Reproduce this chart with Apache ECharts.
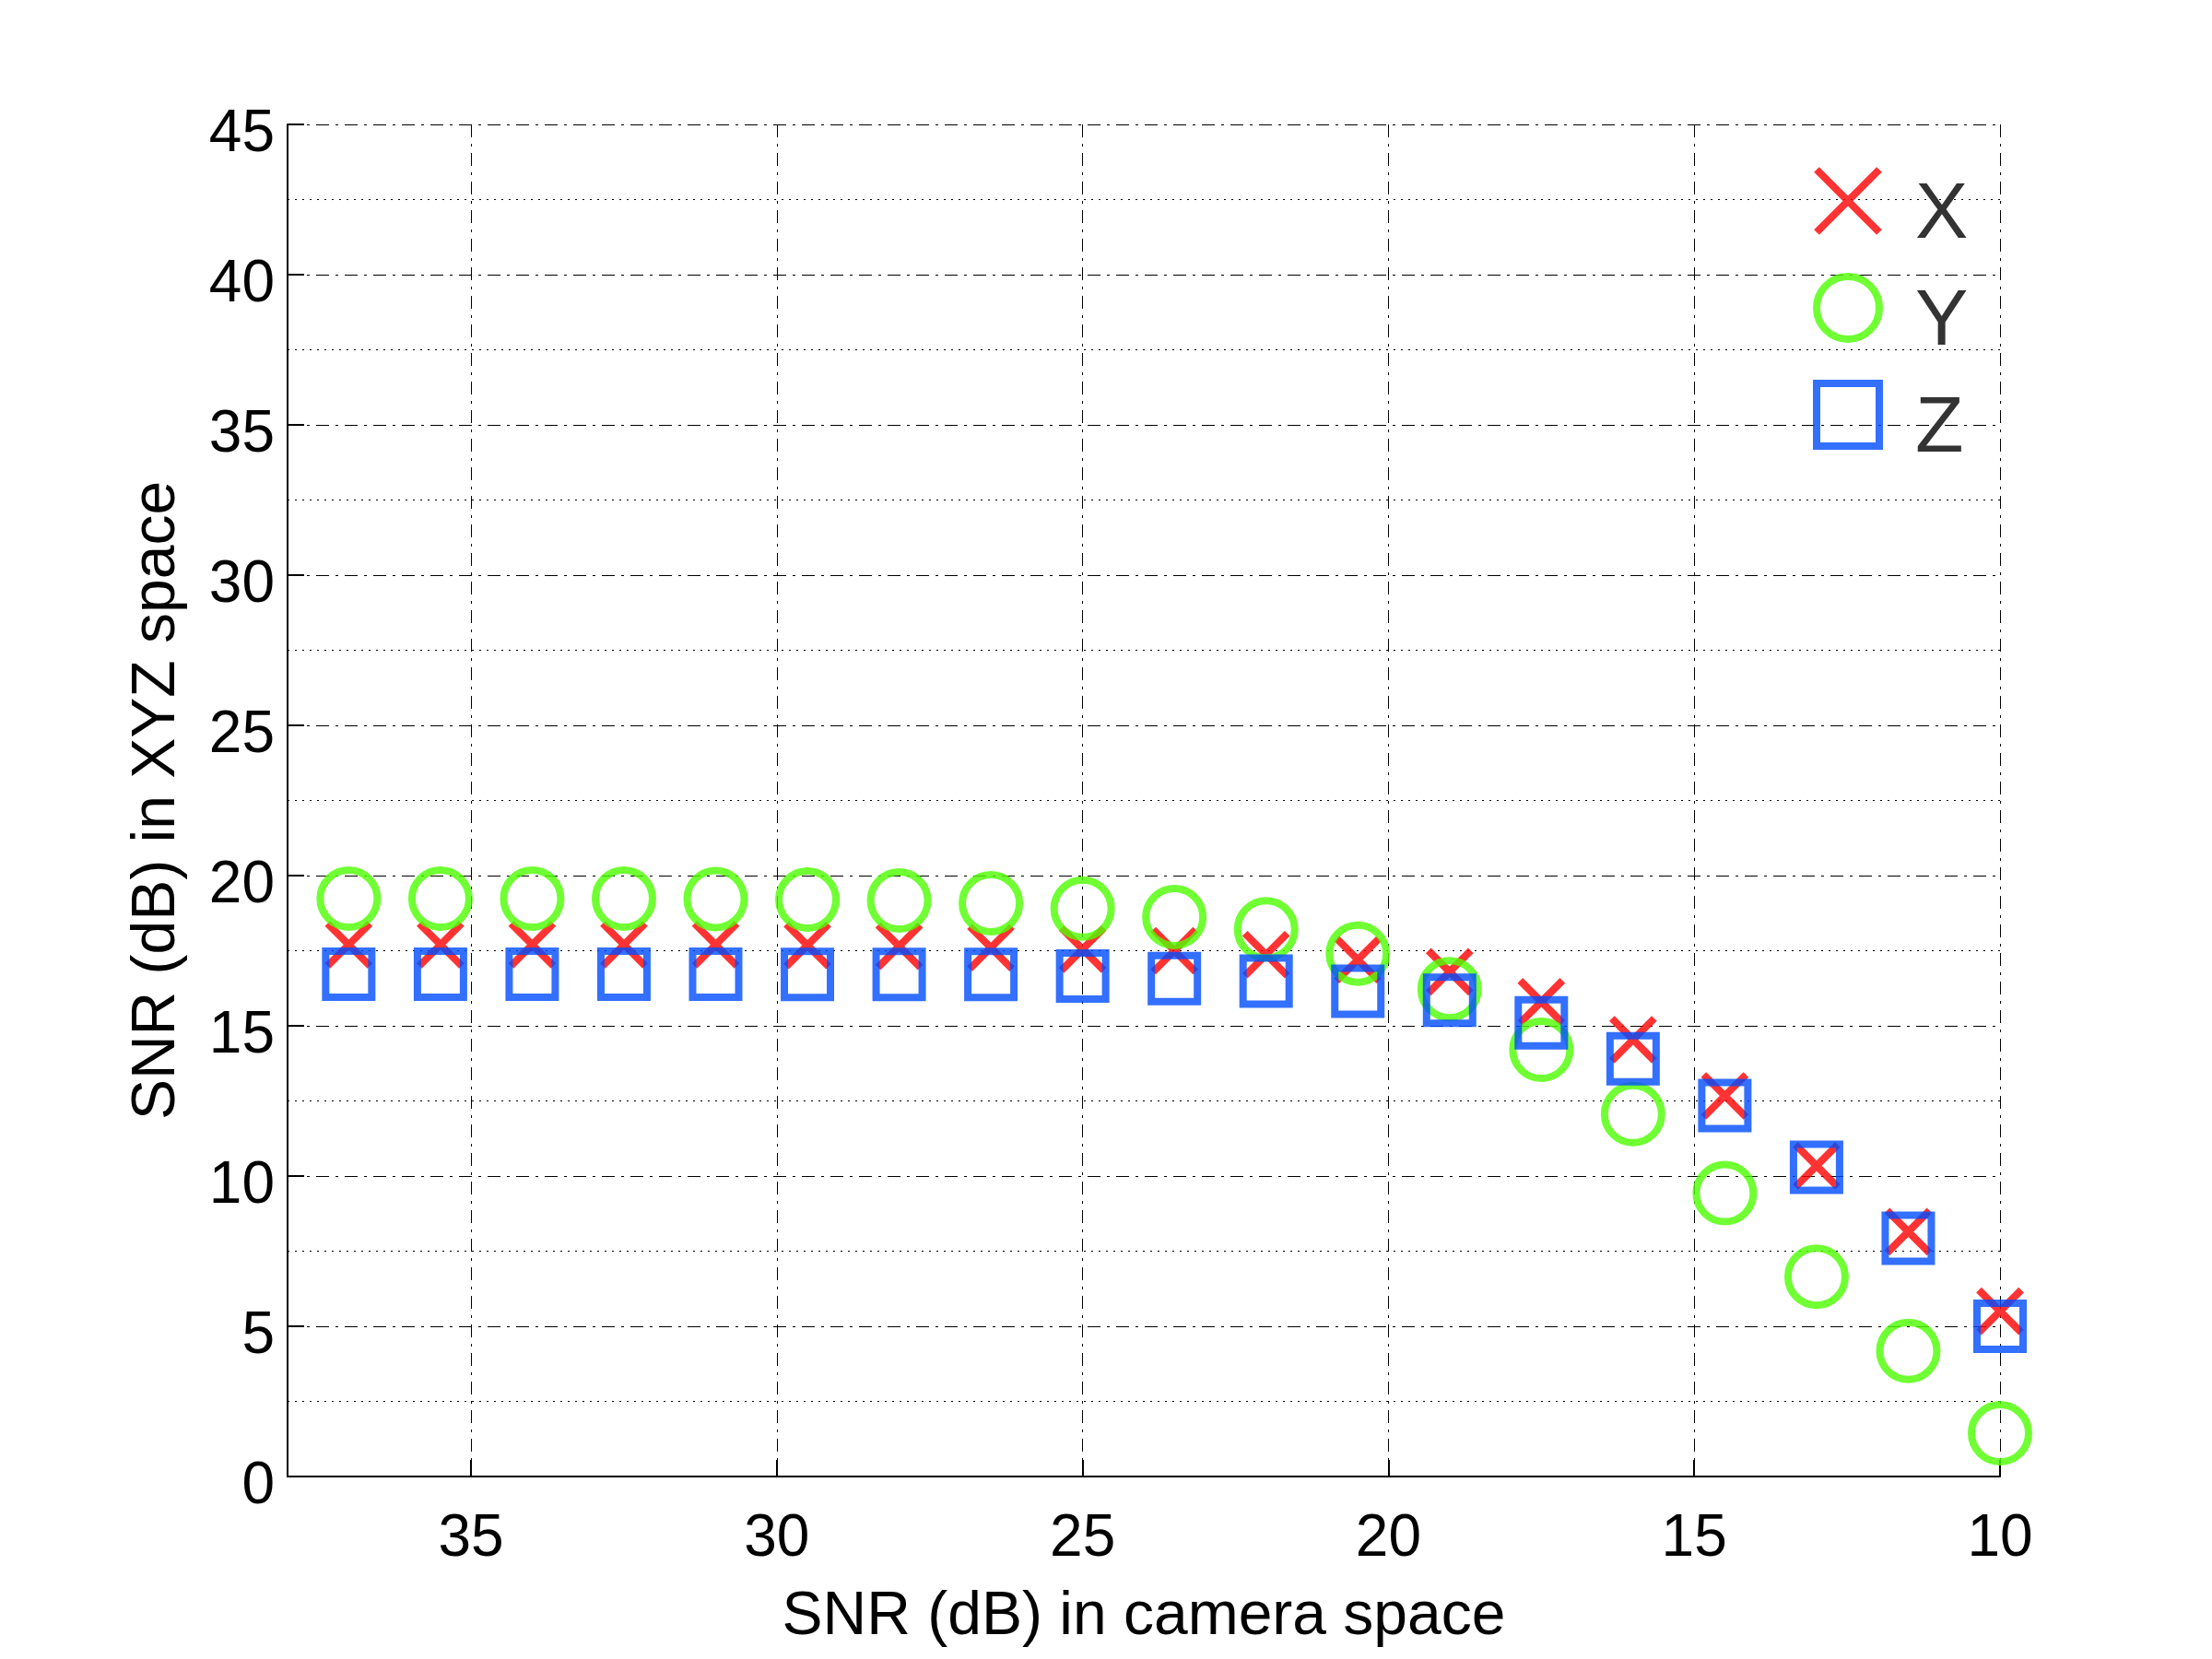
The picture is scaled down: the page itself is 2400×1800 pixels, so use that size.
<!DOCTYPE html>
<html>
<head>
<meta charset="utf-8">
<script src="https://cdn.jsdelivr.net/npm/echarts@6/dist/echarts.min.js"></script>
<style>html,body{margin:0;padding:0;background:#fff}#c{width:2400px;height:1800px}</style>
</head>
<body>
<div id="c"></div>
<script>
const cameraSNR = [37, 35.5, 34, 32.5, 31, 29.5, 28, 26.5, 25, 23.5, 22, 20.5, 19, 17.5, 16, 14.5, 13, 11.5, 10];
const xValues = [17.7, 17.7, 17.7, 17.7, 17.7, 17.68, 17.65, 17.6, 17.55, 17.5, 17.37, 17.2, 16.8, 15.8, 14.54, 12.67, 10.34, 8.15, 5.5];
const yValues = [19.23, 19.23, 19.23, 19.23, 19.22, 19.2, 19.17, 19.08, 18.9, 18.62, 18.21, 17.4, 16.22, 14.2, 12.06, 9.43, 6.65, 4.18, 1.44];
const zValues = [16.72, 16.72, 16.72, 16.72, 16.72, 16.71, 16.71, 16.71, 16.66, 16.57, 16.49, 16.15, 15.85, 15.1, 13.9, 12.35, 10.29, 7.93, 5.0];
const seriesNames = ['X', 'Y', 'Z'];
const xTicks = [10, 15, 20, 25, 30, 35];

const pair = v => cameraSNR.map((c, i) => [c, v[i]]);
const FONT = 'Liberation Sans, Arial, sans-serif';
const crossPath = 'path://M0,0L10,10M10,0L0,10';
const squarePath = 'path://M0,0L10,0L10,10L0,10Z';
const colors = ['#FF0000', '#4CFF00', '#004CFF'];
const symbols = [crossPath, 'circle', squarePath];
const sizes = [46, 62, 50];

const chart = echarts.init(document.getElementById('c'), null, {renderer: 'canvas'});
chart.setOption({
  animation: false,
  backgroundColor: '#fff',
  grid: {left: 312, right: 230, top: 135, bottom: 198, containLabel: false},
  xAxis: {
    type: 'value', inverse: true, min: 10, max: 38, interval: 5,
    name: 'SNR (dB) in camera space', nameLocation: 'middle', nameGap: 120,
    nameTextStyle: {fontFamily: FONT, fontSize: 66, color: '#000'},
    axisLine: {show: true, onZero: false, lineStyle: {color: '#000', width: 2}},
    axisTick: {show: true, inside: true, length: 18, lineStyle: {color: '#000', width: 2}},
    axisLabel: {fontFamily: FONT, fontSize: 64, color: '#000', margin: 36,
      formatter: v => xTicks.indexOf(v) >= 0 ? String(v) : ''},
    splitLine: {show: true, lineStyle: {color: '#000', width: 1, type: [14, 7, 3, 7]}}
  },
  yAxis: {
    type: 'value', min: 0, max: 45, interval: 5,
    name: 'SNR (dB) in XYZ space', nameLocation: 'middle', nameGap: 108,
    nameTextStyle: {fontFamily: FONT, fontSize: 66, color: '#000'},
    axisLine: {show: true, lineStyle: {color: '#000', width: 2}},
    axisTick: {show: true, inside: true, length: 18, lineStyle: {color: '#000', width: 2}},
    axisLabel: {margin: 14, formatter: v => '{t|' + v + '}',
      rich: {t: {fontFamily: FONT, fontSize: 64, color: '#000', padding: [22, 0, 0, 0]}}},
    splitLine: {show: true, lineStyle: {color: '#000', width: 1, type: [14, 7, 3, 7]}},
    minorTick: {show: false, splitNumber: 2},
    minorSplitLine: {show: true, lineStyle: {color: '#000', width: 1, type: [2, 6]}}
  },
  legend: {
    orient: 'vertical', left: 1962, top: 175,
    itemWidth: 68, itemHeight: 68, itemGap: 19,
    formatter: n => '{t|' + n + '}',
    textStyle: {rich: {t: {fontFamily: FONT, fontSize: 86, color: '#333', padding: [32, 0, 0, 34]}}},
    data: seriesNames.map((n, i) => ({
      name: n, icon: symbols[i],
      itemStyle: {color: 'rgba(0,0,0,0)', borderColor: colors[i], borderWidth: 8}
    }))
  },
  series: seriesNames.map((n, i) => ({
    name: n, type: 'scatter', data: pair([xValues, yValues, zValues][i]),
    symbol: symbols[i], symbolSize: sizes[i],
    itemStyle: {color: 'rgba(0,0,0,0)', borderColor: colors[i], borderWidth: 8}
  }))
});
</script>
</body>
</html>
